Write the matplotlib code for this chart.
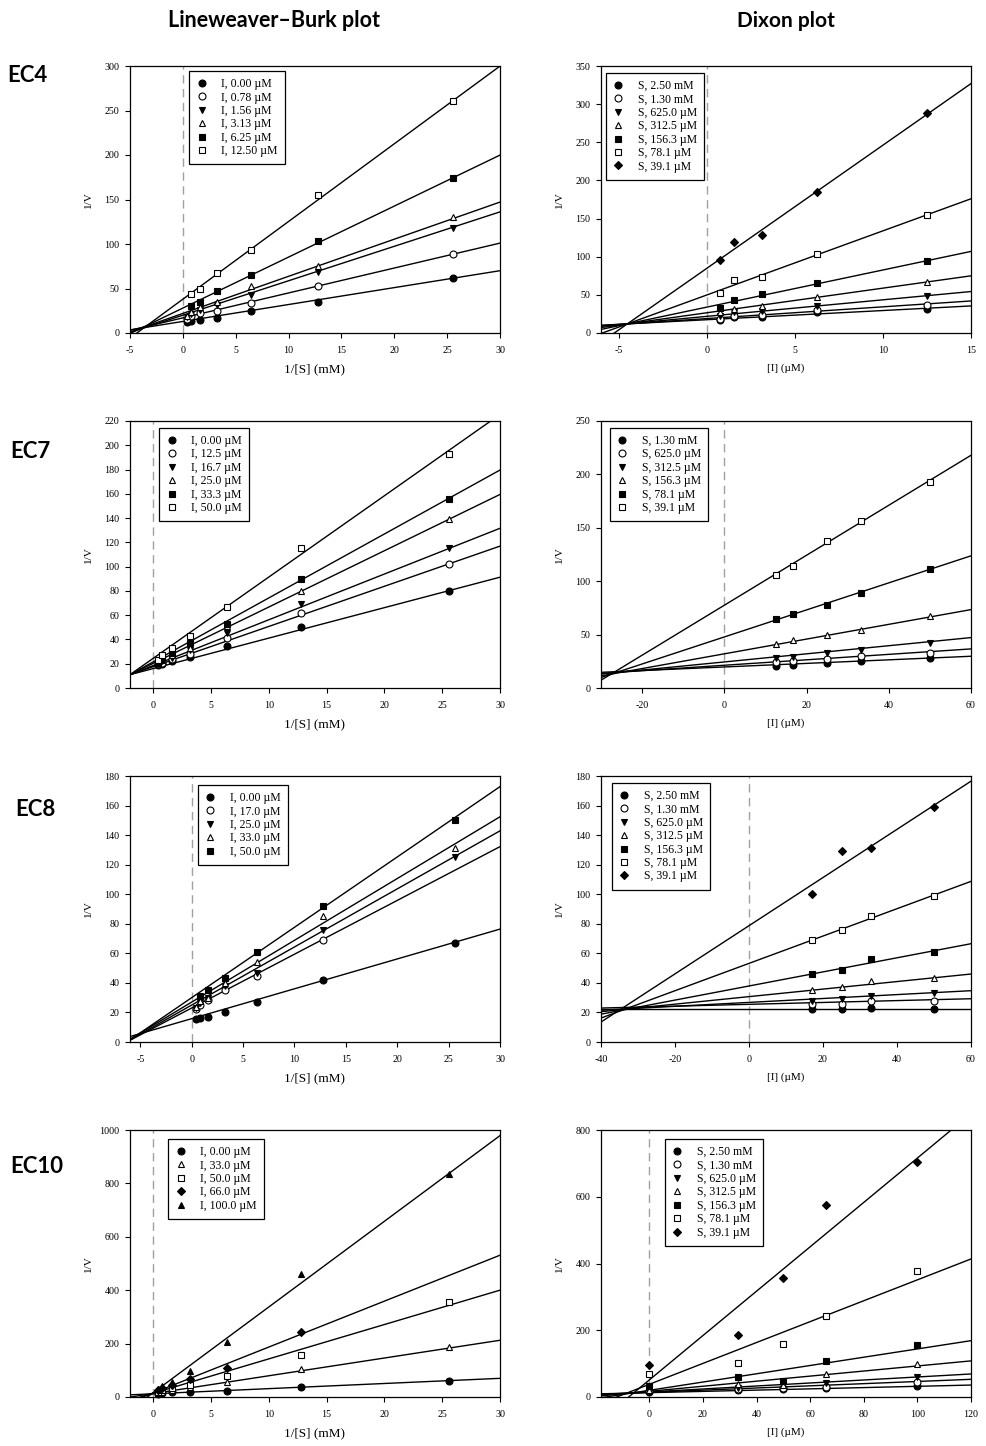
import numpy as np
import matplotlib
matplotlib.use("Agg")
import matplotlib.pyplot as plt

plt.rcParams['axes.unicode_minus'] = False
plt.rcParams['font.family'] = ['Liberation Serif', 'DejaVu Serif']

# ---------------- data ----------------
LB_X = [0.4, 0.77, 1.6, 3.2, 6.4, 12.8, 25.6]
NAN = np.nan

S_LABELS7 = ["S, 2.50 mM", "S, 1.30 mM", "S, 625.0 \u00b5M", "S, 312.5 \u00b5M",
             "S, 156.3 \u00b5M", "S, 78.1 \u00b5M", "S, 39.1 \u00b5M"]

# EC4 Lineweaver-Burk
ec4_lb_labels = ["I, 0.00 \u00b5M", "I, 0.78 \u00b5M", "I, 1.56 \u00b5M", "I, 3.13 \u00b5M",
                 "I, 6.25 \u00b5M", "I, 12.50 \u00b5M"]
ec4_lb_y = [[12, 13.5, 15, 17, 24.5, 34.5, 62],
            [16, 19, 22, 25, 34, 52.5, 89],
            [18, 21, 26, 31, 43, 69, 118],
            [19, 24, 29, 35, 52.5, 75, 130],
            [NAN, 30, 35, 47, 65, 103.5, 174],
            [NAN, 44, 49, 67, 93, 155, 261]]
ec4_lb_b = [13, 17, 20, 22, 28, 38]
ec4_lb_m = [1.9, 2.8, 3.87, 4.17, 5.73, 8.73]

# EC4 Dixon
ec4_dx_x = [0.78, 1.56, 3.13, 6.25, 12.5]
ec4_dx_labels = S_LABELS7
ec4_dx_y = [[17, 20.5, 21, 28, 31],
            [19, 22, 24, 30, 37],
            [22, 27, 29, 35, 48],
            [28, 32, 36, 47, 67],
            [33, 43, 51, 65, 94],
            [52, 70, 73, 104, 155],
            [96, 119, 129, 185, 288]]
ec4_dx_b = [17.4, 18.9, 21.8, 26.5, 33.9, 49.8, 84.7]
ec4_dx_m = [1.205, 1.54, 2.17, 3.23, 4.87, 8.41, 16.15]

# EC7 Lineweaver-Burk
ec7_lb_labels = ["I, 0.00 \u00b5M", "I, 12.5 \u00b5M", "I, 16.7 \u00b5M", "I, 25.0 \u00b5M",
                 "I, 33.3 \u00b5M", "I, 50.0 \u00b5M"]
ec7_lb_y = [[19, 20, 22, 25.5, 34.5, 50, 80],
            [20, 21, 24, 28, 41, 62, 102],
            [20, 22, 25, 31, 45, 69, 115],
            [21, 23, 27, 33, 51, 80, 139],
            [21, 24, 29, 37, 53, 90, 156],
            [23, 27, 33, 43, 67, 115, 193]]
ec7_lb_b = [16, 17.6, 18.5, 20.3, 21.5, 24.4]
ec7_lb_m = [2.51, 3.31, 3.77, 4.64, 5.27, 6.7]

# EC7 Dixon
ec7_dx_x = [12.5, 16.7, 25.0, 33.3, 50.0]
ec7_dx_labels = ["S, 1.30 mM", "S, 625.0 \u00b5M", "S, 312.5 \u00b5M", "S, 156.3 \u00b5M",
                 "S, 78.1 \u00b5M", "S, 39.1 \u00b5M"]
ec7_dx_y = [[21, 22, 23, 25, 28],
            [24, 25, 27, 30, 33],
            [28, 29, 33, 36, 42],
            [41, 45, 50, 54, 67],
            [65, 69, 78, 89, 111],
            [106, 114, 138, 156, 193]]
ec7_dx_b = [19.7, 21.3, 24.4, 32, 47.8, 77.5]
ec7_dx_m = [0.167, 0.255, 0.38, 0.69, 1.266, 2.34]

# EC8 Lineweaver-Burk
ec8_lb_labels = ["I, 0.00 \u00b5M", "I, 17.0 \u00b5M", "I, 25.0 \u00b5M", "I, 33.0 \u00b5M",
                 "I, 50.0 \u00b5M"]
ec8_lb_y = [[15.8, 16, 17, 20, 27.3, 42, 67],
            [22, 25, 28.5, 35, 45, 69, NAN],
            [23, 26.5, 29.5, 38, 47, 76, 125],
            [24, 27.5, 30, 40, 54, 85.5, 131.5],
            [NAN, 31, 35, 43, 61, 92, 150]]
ec8_lb_b = [15.8, 23, 25, 27, 30]
ec8_lb_m = [2.02, 3.64, 3.93, 4.18, 4.76]

# EC8 Dixon
ec8_dx_x = [17.0, 25.0, 33.0, 50.0]
ec8_dx_labels = S_LABELS7
ec8_dx_y = [[22.5, 22.5, 23, 22.5],
            [26, 26, 28, 28],
            [28, 29, 31, 33],
            [35, 37, 41, 43],
            [46, 49, 56, 61],
            [69, 76, 85, 99],
            [100, 129, 131, 159]]
ec8_dx_b = [22.6, 25.5, 26.8, 30.7, 37.9, 53.2, 78.7]
ec8_dx_m = [0.0, 0.063, 0.132, 0.255, 0.477, 0.925, 1.63]

# EC10 Lineweaver-Burk
ec10_lb_labels = ["I, 0.00 \u00b5M", "I, 33.0 \u00b5M", "I, 50.0 \u00b5M", "I, 66.0 \u00b5M",
                  "I, 100.0 \u00b5M"]
ec10_lb_y = [[13, 15, 17, 20, 24, 37, 61],
             [15, 20, 28, 38, 58, 105, 186],
             [18, 25, 35, 45, 80, 158, 357],
             [25, 33, 45, 66, 108, 243, NAN],
             [30, 42, 58, 97, 207, 460, 836]]
ec10_lb_b = [12, 13, 14, 15, 16]
ec10_lb_m = [1.93, 6.65, 12.87, 17.2, 32.1]

# EC10 Dixon
ec10_dx_x = [0, 33, 50, 66, 100]
ec10_dx_labels = S_LABELS7
ec10_dx_y = [[16, 21, 23, 28, 33],
             [18, 23, 26, 31, 46],
             [16, 28, 46, 43, 59],
             [21, 38, 36, 69, 98],
             [34, 59, 48, 108, 156],
             [70, 103, 158, 244, 378],
             [96, 186, 356, 574, 703]]
ec10_dx_b = [13, 14, 15, 17, 20, 38, 51]
ec10_dx_m = [0.19, 0.325, 0.45, 0.76, 1.24, 3.13, 6.65]

# ---------------- styles ----------------
MK = {
    'fc': dict(marker='o', mfc='black'),
    'oc': dict(marker='o', mfc='white'),
    'fv': dict(marker='v', mfc='black'),
    'ot': dict(marker='^', mfc='white'),
    'fs': dict(marker='s', mfc='black'),
    'os': dict(marker='s', mfc='white'),
    'fd': dict(marker='D', mfc='black'),
    'ft': dict(marker='^', mfc='black'),
}
DX7 = ['fc', 'oc', 'fv', 'ot', 'fs', 'os', 'fd']

W, H = 986, 1446
fig = plt.figure(figsize=(W / 100, H / 100), dpi=100)

COLS = [(130, 500), (601, 971)]
ROWS = [(66, 333), (421, 688), (776, 1042), (1130, 1397)]


def make_ax(col, row):
    l, r = COLS[col]
    t, b = ROWS[row]
    return fig.add_axes([l / W, 1 - b / H, (r - l) / W, (b - t) / H])


def panel(ax, xs, ys, labels, bs, ms, styles, xlim, xticks, ylim, yticks,
          xlabel, xlabsize, leg_xy):
    ax.set_xlim(*xlim)
    ax.set_ylim(*ylim)
    ax.axvline(0, color='#a0a0a0', lw=1.0, dashes=(6, 4), zorder=1)
    xl = np.array(xlim, dtype=float)
    for b, m in zip(bs, ms):
        ax.plot(xl, b + m * xl, color='black', lw=1.0, zorder=2)
    handles = []
    for y, lab, st in zip(ys, labels, styles):
        kw = MK[st]
        size = 4.4 if kw['marker'] == 'D' else 5.0
        h, = ax.plot(xs, y, linestyle='none', marker=kw['marker'], mfc=kw['mfc'],
                     mec='black', mew=0.8, ms=size, label=lab, zorder=3, clip_on=False)
        handles.append(h)
    ax.set_xticks(xticks)
    ax.set_yticks(yticks)
    for sp in ax.spines.values():
        sp.set_linewidth(0.9)
    ax.tick_params(direction='out', length=3.5, width=0.8, labelsize=7.2,
                   top=False, right=False)
    ax.tick_params(axis='x', pad=6)
    ax.tick_params(axis='y', pad=4)
    ax.set_xlabel(xlabel, fontsize=xlabsize)
    ax.set_ylabel("1/V", fontsize=8)
    ax.xaxis.set_label_coords(0.5, -0.115)
    ax.yaxis.set_label_coords(-0.10, 0.5)
    leg = ax.legend(handles=handles, loc='upper left', bbox_to_anchor=leg_xy,
                    fontsize=8.5, numpoints=1, handlelength=0.9, handletextpad=1.2,
                    borderpad=0.6, labelspacing=0.12, frameon=True, fancybox=False,
                    framealpha=1, borderaxespad=0, edgecolor='black')
    leg.get_frame().set_linewidth(0.9)


LBX = "1/[S] (mM)"
DXX = "[I] (\u00b5M)"

# Row EC4
panel(make_ax(0, 0), LB_X, ec4_lb_y, ec4_lb_labels, ec4_lb_b, ec4_lb_m,
      ['fc', 'oc', 'fv', 'ot', 'fs', 'os'], (-5, 30), range(-5, 31, 5),
      (0, 300), range(0, 301, 50), LBX, 9.5, (0.16, 0.981))
panel(make_ax(1, 0), ec4_dx_x, ec4_dx_y, ec4_dx_labels, ec4_dx_b, ec4_dx_m,
      DX7, (-6, 15), range(-5, 16, 5), (0, 350), range(0, 351, 50), DXX, 8,
      (0.0135, 0.974))
# Row EC7
panel(make_ax(0, 1), LB_X, ec7_lb_y, ec7_lb_labels, ec7_lb_b, ec7_lb_m,
      ['fc', 'oc', 'fv', 'ot', 'fs', 'os'], (-2, 30), range(0, 31, 5),
      (0, 220), range(0, 221, 20), LBX, 9.5, (0.079, 0.974))
panel(make_ax(1, 1), ec7_dx_x, ec7_dx_y, ec7_dx_labels, ec7_dx_b, ec7_dx_m,
      ['fc', 'oc', 'fv', 'ot', 'fs', 'os'], (-30, 60), range(-20, 61, 20),
      (0, 250), range(0, 251, 50), DXX, 8, (0.024, 0.974))
# Row EC8
panel(make_ax(0, 2), LB_X, ec8_lb_y, ec8_lb_labels, ec8_lb_b, ec8_lb_m,
      ['fc', 'oc', 'fv', 'ot', 'fs'], (-6, 30), range(-5, 31, 5),
      (0, 180), range(0, 181, 20), LBX, 9.5, (0.184, 0.966))
panel(make_ax(1, 2), ec8_dx_x, ec8_dx_y, ec8_dx_labels, ec8_dx_b, ec8_dx_m,
      DX7, (-40, 60), range(-40, 61, 20), (0, 180), range(0, 181, 20), DXX, 8,
      (0.03, 0.974))
# Row EC10
panel(make_ax(0, 3), LB_X, ec10_lb_y, ec10_lb_labels, ec10_lb_b, ec10_lb_m,
      ['fc', 'ot', 'os', 'fd', 'ft'], (-2, 30), range(0, 31, 5),
      (0, 1000), range(0, 1001, 200), LBX, 9.5, (0.103, 0.966))
panel(make_ax(1, 3), ec10_dx_x, ec10_dx_y, ec10_dx_labels, ec10_dx_b, ec10_dx_m,
      DX7, (-18, 120), range(0, 121, 20), (0, 800), range(0, 801, 200), DXX, 8,
      (0.173, 0.966))

# Headers and row labels
SANS = ['Lato', 'Open Sans', 'DejaVu Sans']
fig.text(168 / W, 1 - 27 / H, "Lineweaver\u2013Burk plot", family=SANS, weight='bold',
         fontsize=15.5, ha='left', va='baseline')
fig.text(786 / W, 1 - 27 / H, "Dixon plot", family=SANS, weight='bold',
         fontsize=15, ha='center', va='baseline')
for lab, (x, y) in zip(["EC4", "EC7", "EC8", "EC10"],
                       [(7, 82), (10, 458), (15, 816), (10, 1173)]):
    fig.text(x / W, 1 - y / H, lab, family=SANS, weight='bold', fontsize=16,
             ha='left', va='baseline')

fig.savefig("out.png", dpi=100)
